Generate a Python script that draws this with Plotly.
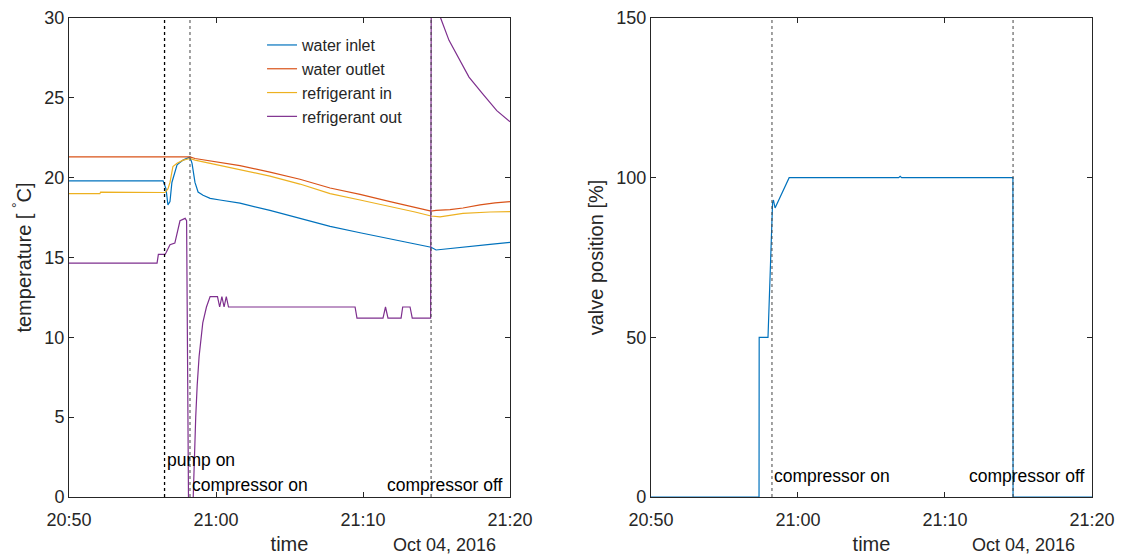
import pandas as pd
import plotly.graph_objects as go

# ---- data (times in minutes after 20:50 on Oct 04, 2016) ----
START = pd.Timestamp("2016-10-04 20:50:00")

PUMP_ON = 6.5
COMPRESSOR_ON = 8.23
COMPRESSOR_OFF = 24.63

inlet_t = [0, 6.4, 6.6, 6.73, 6.87, 7.0, 7.35, 7.76, 8.23, 8.37,
           8.57, 8.78, 9.12, 9.6, 10.27, 11.63, 13.67, 15.71, 17.76, 19.8,
           21.84, 23.54, 24.63, 24.97, 25.92, 27.28, 28.64, 30]
inlet_v = [19.8, 19.8, 19.3, 18.3, 18.5, 19.7, 20.8, 21.1, 21.3, 20.9,
           19.7, 19.1, 18.9, 18.7, 18.6, 18.4, 17.95, 17.45, 16.95, 16.55,
           16.15, 15.85, 15.64, 15.47, 15.55, 15.7, 15.82, 15.95]

outlet_t = [0, 8.23, 8.57, 11.63, 13.67, 15.71, 17.76, 19.8, 21.84, 23.54,
            24.63, 24.97, 25.92, 26.8, 27.96, 28.98, 30]
outlet_v = [21.3, 21.3, 21.2, 20.75, 20.35, 19.9, 19.35, 18.95, 18.5, 18.15,
            17.9, 17.95, 18.0, 18.1, 18.3, 18.42, 18.5]

refin_t = [0, 2.1, 2.15, 6.53, 6.73, 6.87, 7.07, 7.35, 7.76, 8.23,
           8.57, 11.63, 13.67, 15.71, 17.76, 19.8, 21.84, 23.54, 24.63, 25.24,
           26.8, 28.64, 30]
refin_v = [19.0, 19.0, 19.1, 19.07, 19.3, 19.7, 20.7, 20.9, 21.1, 21.2,
           21.1, 20.5, 20.1, 19.6, 19.0, 18.6, 18.2, 17.85, 17.6, 17.55,
           17.76, 17.85, 17.87]

refout_t = [0, 5.99, 6.08, 6.53, 6.6, 6.87, 7.2, 7.3, 7.55, 7.9,
            8.0, 8.15, 8.3, 8.45, 8.55, 8.62, 8.72, 8.85, 9.1, 9.35,
            9.6, 10.1, 10.25, 10.4, 10.55, 10.7, 10.85, 11.0, 19.46, 19.59,
            21.36, 21.53, 21.7, 22.59, 22.7, 23.2, 23.35, 24.6, 24.65, 24.8,
            25.28, 25.85, 26.53, 27.21, 28.1, 29.1, 30]
refout_v = [14.65, 14.65, 15.2, 15.2, 15.3, 15.8, 15.9, 16.3, 17.3, 17.45,
            17.3, -3, -3, 0, 3.5, 5.0, 7.0, 8.8, 10.9, 11.9,
            12.55, 12.55, 11.9, 12.55, 11.9, 12.55, 11.9, 11.9, 11.9, 11.2,
            11.2, 11.9, 11.2, 11.2, 11.9, 11.9, 11.2, 11.2, 36, 33,
            30.0, 28.6, 27.4, 26.3, 25.3, 24.2, 23.5]

valve_t = [0, 7.35, 7.36, 7.96, 8.27, 8.33, 8.44, 9.4, 16.85, 16.95,
           17.05, 24.62, 24.63, 30]
valve_v = [0, 0, 50, 50, 92, 93, 90.5, 100, 100, 100.4,
           100, 100, 0, 0]

temp_ticks = [0, 5, 10, 15, 20, 25, 30]
valve_ticks = [0, 50, 100, 150]


def at(minutes):
    return [START + pd.Timedelta(minutes=m) for m in minutes]


def at1(m):
    return START + pd.Timedelta(minutes=m)


FONT = "Liberation Sans, Arial, Helvetica, sans-serif"
INK = "#262626"
BLUE = "#0072BD"
RED = "#D95319"
YELLOW = "#EDB120"
PURPLE = "#7E2F8E"
LW = 1.2

fig = go.Figure()

series = [
    ("water inlet", inlet_t, inlet_v, BLUE),
    ("water outlet", outlet_t, outlet_v, RED),
    ("refrigerant in", refin_t, refin_v, YELLOW),
    ("refrigerant out", refout_t, refout_v, PURPLE),
]
for name, t, v, c in series:
    fig.add_trace(go.Scatter(x=at(t), y=v, name=name, mode="lines",
                             line=dict(color=c, width=LW),
                             xaxis="x", yaxis="y"))

fig.add_trace(go.Scatter(x=at(valve_t), y=valve_v, name="valve", mode="lines",
                         line=dict(color=BLUE, width=LW), showlegend=False,
                         cliponaxis=False, xaxis="x2", yaxis="y2"))

t_range = [at1(0), at1(30)]

axis_style = dict(showline=True, linecolor=INK, linewidth=1, mirror="ticks",
                  ticks="inside", ticklen=5, tickcolor=INK, tickwidth=1,
                  showgrid=False, zeroline=False, layer="below traces",
                  automargin=False,
                  tickfont=dict(family=FONT, size=18, color=INK))

title_font = dict(family=FONT, size=20, color=INK)

x_style = dict(axis_style, type="date", range=t_range, tick0=at1(0),
               dtick=600000, tickformat="%H:%M", ticklabelstandoff=6,
               title=dict(text="time", standoff=8, font=title_font))

fig.update_layout(
    width=1121, height=556,
    margin=dict(l=69, r=29, t=18, b=59),
    paper_bgcolor="white", plot_bgcolor="white",
    font=dict(family=FONT, color=INK),
    xaxis=dict(x_style, domain=[0, 0.4311], anchor="y"),
    xaxis2=dict(x_style, domain=[0.5689, 1.0], anchor="y2"),
    yaxis=dict(axis_style, range=[0, 30], tickvals=temp_ticks, anchor="x",
               title=dict(text="temperature [ <sup>°</sup>C]", standoff=7,
                          font=title_font)),
    yaxis2=dict(axis_style, range=[0, 150], tickvals=valve_ticks, anchor="x2",
                title=dict(text="valve position [%]", standoff=7,
                           font=title_font)),
    legend=dict(x=0.1887, y=0.979, xanchor="left", yanchor="top",
                bgcolor="rgba(0,0,0,0)", borderwidth=0,
                font=dict(family=FONT, size=16, color=INK)),
    showlegend=True,
)

# event markers
events = [
    ("x", PUMP_ON, 1.3, "black"),
    ("x", COMPRESSOR_ON, 1.0, "#444444"),
    ("x", COMPRESSOR_OFF, 1.0, "#444444"),
    ("x2", COMPRESSOR_ON, 1.0, "#444444"),
    ("x2", COMPRESSOR_OFF, 1.0, "#444444"),
]
for xref, m, w, c in events:
    fig.add_shape(type="line", xref=xref, yref=("y domain" if xref == "x" else "y2 domain"),
                  x0=at1(m), x1=at1(m), y0=0, y1=1,
                  line=dict(color=c, width=w, dash="dot"))

label_font = dict(family=FONT, size=17.5, color="black")
notes = [
    ("x", "y", PUMP_ON, 2.3, "pump on", "left"),
    ("x", "y", COMPRESSOR_ON, 0.75, "compressor on", "left"),
    ("x", "y", 25.6, 0.75, "compressor off", "center"),
    ("x2", "y2", COMPRESSOR_ON, 6.7, "compressor on", "left"),
    ("x2", "y2", 25.58, 6.7, "compressor off", "center"),
]
for xr, yr, m, yv, txt, anchor in notes:
    fig.add_annotation(x=at1(m), y=yv, xref=xr, yref=yr, text=txt,
                       showarrow=False, xanchor=anchor, yanchor="middle",
                       font=label_font)

for px in (0.3675, 0.9335):
    fig.add_annotation(x=px, y=-0.1002, xref="paper", yref="paper",
                       text="Oct 04, 2016", showarrow=False,
                       xanchor="center", yanchor="middle",
                       font=dict(family=FONT, size=18, color=INK))

fig.write_html("out.html")
